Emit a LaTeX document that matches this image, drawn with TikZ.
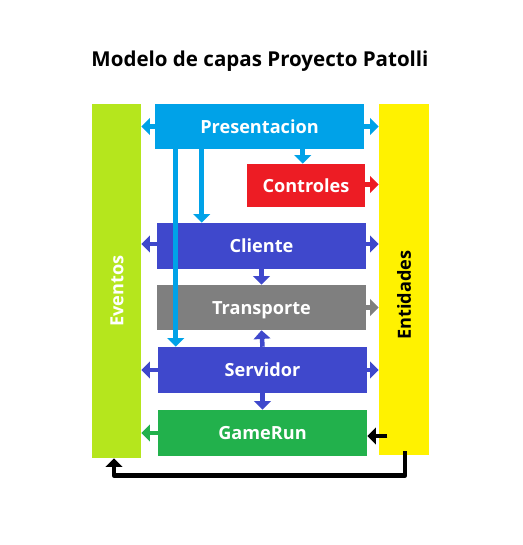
\documentclass[tikz,border=0pt]{standalone}
\usepackage{fontspec}
\setmainfont{Open Sans}
\usetikzlibrary{calc,arrows.meta}
\definecolor{cPres}{RGB}{0,162,232}
\definecolor{cCtl}{RGB}{237,28,36}
\definecolor{cCli}{RGB}{63,72,204}
\definecolor{cTra}{RGB}{127,127,127}
\definecolor{cGame}{RGB}{34,177,76}
\definecolor{cEv}{RGB}{181,230,29}
\definecolor{cEnt}{RGB}{255,242,0}
\begin{document}
\begin{tikzpicture}[x=0.75pt,y=-0.75pt,
  lbl/.style={font=\bfseries\fontsize{13.6pt}{15pt}\selectfont},
  layer/.style={fill=#1, inner sep=0pt, text=white, lbl, text height=10.4pt, text depth=0pt},
  sz/.style 2 args={minimum width=#1*0.75pt, minimum height=#2*0.75pt},
  bar/.style={fill=#1, inner sep=0pt},
  arr/.style={draw=#1, line width=3.4pt, -{Triangle[width=12.5pt,length=6.5pt]}},
  blk/.style={draw=black, line width=3.6pt, line join=round, -{Triangle[width=12.5pt,length=6.5pt]}}]
\useasboundingbox (0,0) rectangle (523,545);
\node[font=\bfseries\fontsize{15.4pt}{17pt}\selectfont] (title) at (260,61) {Modelo de capas Proyecto Patolli};
\node[bar=cEv, sz={49}{354}] (ev) at (116.5,281) {};
\node[bar=cEnt, sz={50}{351}] (ent) at (404,279.5) {};
\node[rotate=90, text=white, lbl] (evt) at (117,291) {Eventos};
\node[rotate=90, text=black, lbl] (entt) at (404,295) {Entidades};
\node[layer=cPres, sz={209}{45}] (pres) at (259.5,126.5) {Presentacion};
\node[layer=cCtl, sz={118}{43}] (ctl) at (306,185.5) {Controles};
\node[layer=cCli, sz={209}{46}] (cli) at (261.5,246) {Cliente};
\node[layer=cTra, sz={209}{45}] (tra) at (261.5,307.5) {Transporte};
\node[layer=cCli, sz={209}{46}] (srv) at (262.5,370) {Servidor};
\node[layer=cGame, sz={209}{46}] (game) at (262.5,433) {GameRun};
% Presentacion
\draw[arr=cPres] (pres.west) -- (pres.west -| ev.east);
\draw[arr=cPres] (pres.east) -- (pres.east -| ent.west);
\draw[arr=cPres] ($(pres.south west)+(148,0)$) coordinate (p1) -- (p1 |- ctl.north);
\draw[arr=cPres] ($(pres.south west)+(21,0)$) coordinate (p2) -- (p2 |- srv.north);
\draw[arr=cPres] ($(pres.south west)+(47,0)$) coordinate (p3) -- (p3 |- cli.north);
% Controles
\draw[arr=cCtl] ($(ctl.east)+(0,-1)$) coordinate (c1) -- (c1 -| ent.west);
% Cliente
\draw[arr=cCli] ($(cli.west)+(0,-2)$) coordinate (k1) -- (k1 -| ev.east);
\draw[arr=cCli] ($(cli.east)+(0,-2)$) coordinate (k2) -- (k2 -| ent.west);
\draw[arr=cCli] (cli.south) -- (tra.north);
% Transporte
\draw[arr=cTra] (tra.east) -- (tra.east -| ent.west);
% Servidor
\draw[arr=cCli] (srv.north) -- (tra.south);
\draw[arr=cCli] (srv.west) -- (srv.west -| ev.east);
\draw[arr=cCli] (srv.east) -- (srv.east -| ent.west);
\draw[arr=cCli] (srv.south) -- (game.north);
% GameRun
\draw[arr=cGame] (game.west) -- (game.west -| ev.east);
\draw[blk] ($(game.east)+(20,3)$) coordinate (g1) -- (g1 -| game.east);
\draw[blk] ($(ent.south)+(1,-4)$) -- ++(0,24) -| ($(ev.south)+(-2.5,0)$);
\end{tikzpicture}
\end{document}
